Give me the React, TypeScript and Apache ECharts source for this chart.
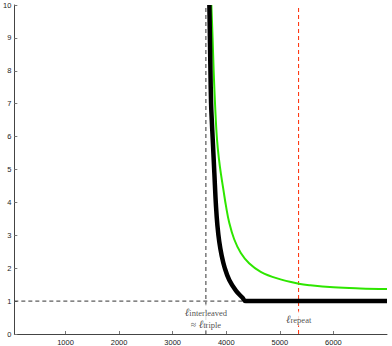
import React, { useEffect, useRef } from "react";
import * as echarts from "echarts";

const xTicks = [1000, 2000, 3000, 4000, 5000, 6000];
const yTicks = [0, 1, 2, 3, 4, 5, 6, 7, 8, 9, 10];

// thick black curve
const blackCurve: [number, number][] = [
  [3685, 10], [3695, 9], [3705, 8], [3717, 7], [3730, 6.5], [3748, 5.9],
  [3778, 4.88], [3809, 3.87], [3835, 3.3], [3870, 2.8], [3915, 2.38],
  [3970, 2.02], [4056, 1.64], [4180, 1.32], [4304, 1.1], [4365, 1.0],
  [5000, 1.0], [6000, 1.0], [7000, 1.0],
];

// green curve
const greenCurve: [number, number][] = [
  [3722, 10], [3745, 9], [3765, 8], [3796, 6.8], [3828, 5.9], [3865, 5.3],
  [3902, 4.85], [3950, 4.35], [3994, 3.9], [4056, 3.38], [4148, 2.88],
  [4272, 2.46], [4426, 2.15], [4643, 1.89], [4952, 1.69], [5352, 1.53],
  [5568, 1.48], [6000, 1.42], [6500, 1.385], [7000, 1.365],
];

const lInterleaved = 3620;
const lRepeat = 5350;
const xMin = 45;
const xMax = 7000;

const interleavedLine: [number, number][] = [[lInterleaved, 0], [lInterleaved, 10]];
const repeatLine: [number, number][] = [[lRepeat, 0], [lRepeat, 10]];
const oneLine: [number, number][] = [[xMin, 1], [4365, 1]];

export default function App() {
  const ref = useRef<HTMLDivElement>(null);
  useEffect(() => {
    const chart = echarts.init(ref.current!, null, { renderer: "svg" });
    const serif = "'Liberation Serif', 'DejaVu Serif', serif";
    const sans = "'Liberation Sans', Arial, sans-serif";
    const rich = {
      l: { fontFamily: serif, fontStyle: "italic", fontSize: 11, color: "#222", lineHeight: 12, verticalAlign: "bottom" },
      s: { fontFamily: serif, fontSize: 8.5, color: "#222", lineHeight: 12, verticalAlign: "bottom" },
      t: { fontFamily: serif, fontSize: 10, color: "#222", lineHeight: 12, verticalAlign: "bottom" },
    };
    chart.setOption({
      animation: false,
      grid: { left: 11.5, right: 5, top: 5, bottom: 12, containLabel: false },
      xAxis: {
        type: "value",
        min: xMin,
        max: xMax,
        splitLine: { show: false },
        axisLine: { show: true, lineStyle: { color: "#444", width: 1 } },
        axisTick: { show: true, inside: true, length: 3, customValues: xTicks, lineStyle: { color: "#777" } },
        axisLabel: {
          customValues: xTicks,
          formatter: (v: number) => String(v),
          fontSize: 7.5,
          fontFamily: sans,
          color: "#222",
          margin: 4,
        },
      },
      yAxis: {
        type: "value",
        min: 0,
        max: 10,
        interval: 1,
        splitLine: { show: false },
        axisLine: { show: true, lineStyle: { color: "#444", width: 1 } },
        axisTick: { show: true, inside: true, length: 3, lineStyle: { color: "#777" } },
        axisLabel: {
          fontSize: 7.5,
          fontFamily: sans,
          color: "#222",
          margin: 3,
          customValues: yTicks,
        },
      },
      series: [
        {
          type: "line",
          data: oneLine,
          symbol: "none",
          lineStyle: { color: "#333", width: 1, type: [4, 3] },
          z: 1,
        },
        {
          type: "line",
          data: interleavedLine,
          symbol: "none",
          lineStyle: { color: "#333", width: 1, type: [4, 3] },
          z: 1,
        },
        {
          type: "line",
          data: repeatLine,
          symbol: "none",
          lineStyle: { color: "#ff2a00", width: 1, type: [4, 3] },
          z: 1,
        },
        {
          type: "scatter",
          symbolSize: 0,
          itemStyle: { color: "transparent" },
          z: 5,
          data: [
            {
              value: [lInterleaved, 0.5],
              label: {
                show: true,
                position: "inside",
                align: "center",
                verticalAlign: "middle",
                color: "#222",
                backgroundColor: "#fff",
                padding: [1, 1],
                formatter: "{l|ℓ}{s|interleaved}\n{t|≈ }{l|ℓ}{s|triple}",
                rich,
              },
            },
            {
              value: [lRepeat, 0.47],
              label: {
                show: true,
                position: "inside",
                align: "center",
                verticalAlign: "middle",
                color: "#222",
                formatter: "{l|ℓ}{s|repeat}",
                rich,
                backgroundColor: "#fff",
                padding: [1, 1],
              },
            },
          ],
        },
        {
          type: "line",
          data: greenCurve,
          symbol: "none",
          smooth: 0.4,
          lineStyle: { color: "#2ee600", width: 2 },
          z: 3,
        },
        {
          type: "line",
          data: blackCurve,
          symbol: "none",
          smooth: 0.4,
          lineStyle: { color: "#000", width: 4.5 },
          z: 4,
        },
      ],
    });
    return () => chart.dispose();
  }, []);
  return <div ref={ref} style={{ width: 392, height: 346, position: "absolute", left: 0, top: 0, background: "#fff" }} />;
}
